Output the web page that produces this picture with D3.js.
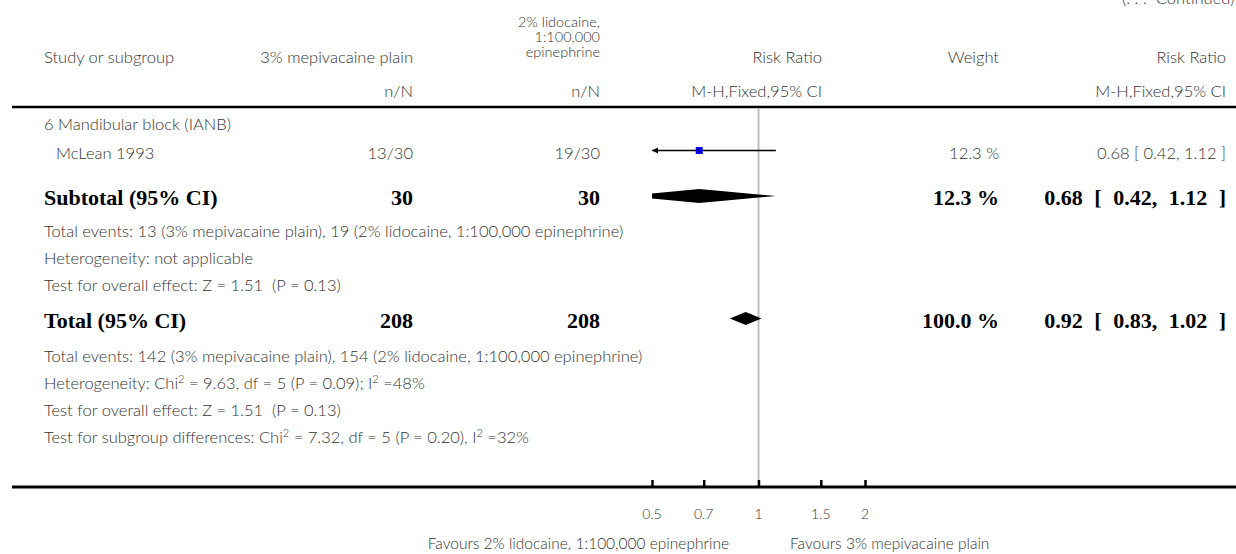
<!DOCTYPE html>
<html><head><meta charset="utf-8">
<script src="https://cdn.jsdelivr.net/npm/d3@7"></script>
<style>
html,body{margin:0;padding:0;background:#fff;}
svg{display:block;}
.r{font-family:Lato,"Open Sans",sans-serif;font-weight:300;font-size:16.5px;fill:#333;}
.b{font-family:"Liberation Serif","DejaVu Serif",serif;font-weight:bold;font-size:22px;fill:#000;}
</style></head>
<body>
<script>
// ---- data ----
const expName = "3% mepivacaine plain";
const ctrlNameLines = ["2% lidocaine,", "1:100,000", "epinephrine"];
const subgroupName = "6 Mandibular block (IANB)";
const studies = ["McLean 1993"];
const expEvents = ["13/30"];
const ctrlEvents = ["19/30"];
const studyRR = [0.68];
const studyLo = [0.42];
const studyHi = [1.12];
const studyWeight = ["12.3 %"];
const studyCI = ["0.68 [ 0.42, 1.12 ]"];
const subtotalN = [30, 30];
const subtotalRR = [0.68, 0.42, 1.12];
const subtotalWeight = "12.3 %";
const subtotalCI = "0.68 [ 0.42, 1.12 ]";
const totalN = [208, 208];
const totalRR = [0.92, 0.83, 1.02];
const totalWeight = "100.0 %";
const totalCI = "0.92 [ 0.83, 1.02 ]";
const subNotes = [
  "Total events: 13 (3% mepivacaine plain), 19 (2% lidocaine, 1:100,000 epinephrine)",
  "Heterogeneity: not applicable",
  "Test for overall effect: Z = 1.51  (P = 0.13)"
];
const totalNotes = [
  "Total events: 142 (3% mepivacaine plain), 154 (2% lidocaine, 1:100,000 epinephrine)",
  ["Heterogeneity: Chi", "2", " = 9.63, df = 5 (P = 0.09); I", "2", " =48%"],
  "Test for overall effect: Z = 1.51  (P = 0.13)",
  ["Test for subgroup differences: Chi", "2", " = 7.32, df = 5 (P = 0.20), I", "2", " =32%"]
];
const tickValues = [0.5, 0.7, 1, 1.5, 2];
const tickLabels = ["0.5", "0.7", "1", "1.5", "2"];
const favoursLeft = "Favours 2% lidocaine, 1:100,000 epinephrine";
const favoursRight = "Favours 3% mepivacaine plain";

// ---- layout ----
const W = 1236, H = 554;
const svg = d3.select("body").append("svg").attr("width", W).attr("height", H);
const x = d3.scaleLog().domain([0.5, 2]).range([652, 865]);
const colL = 44, colStudy = 56, colExp = 413, colCtrl = 600, colRR = 822, colW = 999, colCI = 1226;
const yRule = 107, yAxis = 487;

function txt(cls, xx, yy, s, anchor) {
  return svg.append("text").attr("class", cls).attr("x", xx).attr("y", yy)
    .attr("text-anchor", anchor || "start").attr("xml:space", "preserve").text(s);
}

// continued note (partly cut at top in the original)
txt("r", 1122, 4, "(. . .  Continued)");

// header
txt("r", colL, 63, "Study or subgroup");
txt("r", colExp, 63, expName, "end");
ctrlNameLines.forEach((s, i) => txt("r", colCtrl, 27 + i * 15, s, "end").style("font-size", "14.5px"));
txt("r", colRR, 63, "Risk Ratio", "end");
txt("r", colW, 63, "Weight", "end");
txt("r", colCI, 63, "Risk Ratio", "end");
txt("r", colExp, 97, "n/N", "end");
txt("r", colCtrl, 97, "n/N", "end");
txt("r", colRR, 97, "M-H,Fixed,95% CI", "end");
txt("r", colCI, 97, "M-H,Fixed,95% CI", "end");

// rule
svg.append("line").attr("x1", 12).attr("x2", W).attr("y1", yRule).attr("y2", yRule)
  .attr("stroke", "#000").attr("stroke-width", 2.5);

// reference line at 1
svg.append("line").attr("x1", x(1)).attr("x2", x(1)).attr("y1", yRule + 1).attr("y2", yAxis)
  .attr("stroke", "#bdbdbd").attr("stroke-width", 2);

// subgroup heading
txt("r", colL, 130, subgroupName);

// studies
const yStudy = [150.5];
studies.forEach((s, i) => {
  const y = yStudy[i];
  txt("r", colStudy, y + 8.5, s);
  txt("r", colExp, y + 8.5, expEvents[i], "end");
  txt("r", colCtrl, y + 8.5, ctrlEvents[i], "end");
  txt("r", colW, y + 8.5, studyWeight[i], "end");
  txt("r", colCI, y + 8.5, studyCI[i], "end");
  const lo = Math.max(studyLo[i], x.domain()[0]), hi = Math.min(studyHi[i], x.domain()[1]);
  svg.append("line").attr("x1", x(lo)).attr("x2", x(hi)).attr("y1", y).attr("y2", y)
    .attr("stroke", "#000").attr("stroke-width", 1.6);
  if (studyLo[i] < x.domain()[0]) {
    const ax = x(x.domain()[0]);
    svg.append("path").attr("d", `M${ax},${y} L${ax + 6},${y - 3} L${ax + 6},${y + 3} Z`).attr("fill", "#000");
  }
  svg.append("rect").attr("x", x(studyRR[i]) - 3.5).attr("y", y - 3.5).attr("width", 7).attr("height", 7)
    .attr("fill", "#0000ee");
  svg.append("line").attr("x1", x(studyRR[i])).attr("x2", x(studyRR[i])).attr("y1", y - 2.5).attr("y2", y + 2.5)
    .attr("stroke", "#000").attr("stroke-width", 0.8);
});

// clip for diamonds
svg.append("clipPath").attr("id", "plotclip").append("rect")
  .attr("x", x(0.5)).attr("y", 0).attr("width", x(2) - x(0.5)).attr("height", H);

function diamond(v, y, h) {
  const pts = [[x(v[1]), y], [x(v[0]), y - h], [x(v[2]), y], [x(v[0]), y + h]];
  svg.append("polygon").attr("points", pts.map(p => p.join(",")).join(" "))
    .attr("fill", "#000").attr("clip-path", "url(#plotclip)");
}

function boldRow(y, label, n, w, ci) {
  txt("b", colL, y, label);
  txt("b", colExp, y, String(n[0]), "end");
  txt("b", colCtrl, y, String(n[1]), "end");
  txt("b", colW, y, w, "end");
  txt("b", colCI, y, ci, "end").style("word-spacing", "6px");
}

// subtotal
const ySub = 196;
boldRow(ySub + 9, "Subtotal (95% CI)", subtotalN, subtotalWeight, subtotalCI);
diamond(subtotalRR, ySub, 7);

function note(s, y) {
  const t = svg.append("text").attr("class", "r").attr("x", colL).attr("y", y).attr("xml:space", "preserve");
  if (typeof s === "string") { t.text(s); return; }
  s.forEach((p, i) => {
    const ts = t.append("tspan").text(p);
    if (i % 2 === 1) ts.attr("dy", -6).style("font-size", "11px");
    else if (i > 0) ts.attr("dy", 6);
  });
}
const ySubNotes = [237, 264, 291];
subNotes.forEach((s, i) => note(s, ySubNotes[i]));

// total
const yTot = 318.5;
boldRow(yTot + 9, "Total (95% CI)", totalN, totalWeight, totalCI);
diamond(totalRR, yTot, 6.5);

const yTotNotes = [362, 389, 416, 443];
totalNotes.forEach((s, i) => note(s, yTotNotes[i]));

// axis
svg.append("line").attr("x1", 12).attr("x2", W).attr("y1", yAxis).attr("y2", yAxis)
  .attr("stroke", "#000").attr("stroke-width", 3);
const axis = d3.axisTop(x).tickValues(tickValues).tickSize(6).tickFormat("");
const ag = svg.append("g").attr("transform", `translate(0,${yAxis - 1})`).call(axis);
ag.select(".domain").remove();
ag.selectAll(".tick line").attr("stroke", "#000").attr("stroke-width", 2.5);
tickValues.forEach((v, i) => txt("r", x(v), 519, tickLabels[i], "middle").style("font-size", "14px"));
txt("r", 729, 549, favoursLeft, "end").style("font-size", "15.5px");
txt("r", 790, 549, favoursRight).style("font-size", "15.5px");
</script>
</body></html>
